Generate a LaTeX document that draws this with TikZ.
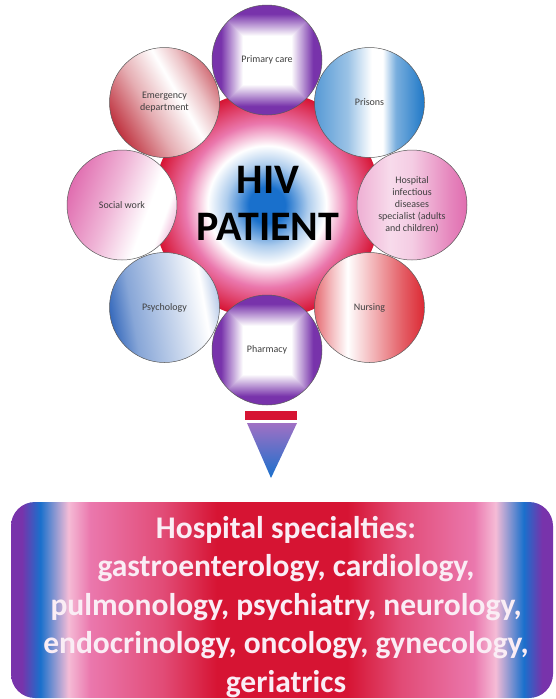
\documentclass[tikz,border=0pt]{standalone}
\usepackage{fontspec}
\newfontfamily\calib{Carlito}
\definecolor{hivred}{rgb}{0.84,0.08,0.2}
\definecolor{hivpink}{rgb}{0.92,0.47,0.68}
\definecolor{hivblue}{rgb}{0.1,0.44,0.8}
\definecolor{hivpurple}{rgb}{0.47,0.2,0.67}
\definecolor{emred}{rgb}{0.75,0.2,0.25}
\definecolor{prblue}{rgb}{0.12,0.47,0.78}
\definecolor{swpink}{rgb}{0.88,0.43,0.69}
\definecolor{psblue}{rgb}{0.22,0.42,0.74}
\definecolor{nured}{rgb}{0.86,0.16,0.2}
\definecolor{lbl}{rgb}{0.25,0.25,0.25}
\definecolor{boxtxt}{rgb}{0.98,0.93,0.96}
\pgfdeclarefunctionalshading{sqpurple}{\pgfpoint{-50bp}{-50bp}}{\pgfpoint{50bp}{50bp}}{}{
	abs exch abs 2 copy sub abs add add 2 div 11 sub 10 div dup abs exch 1 sub abs sub 1 add 2 div
	dup 0.53 mul 1 exch sub exch dup 0.8 mul 1 exch sub exch 0.33 mul 1 exch sub
}
\pgfdeclarehorizontalshading{emshade}{100bp}{color(0bp)=(emred); color(25bp)=(emred); color(42bp)=(emred!40); color(57bp)=(white); color(66bp)=(emred!30); color(75bp)=(emred!70); color(100bp)=(emred!70)}
\pgfdeclarehorizontalshading{prshade}{100bp}{color(0bp)=(prblue!75); color(25bp)=(prblue!75); color(40bp)=(prblue!45); color(51bp)=(white); color(56bp)=(white); color(62bp)=(prblue!60); color(75bp)=(prblue); color(100bp)=(prblue)}
\pgfdeclarehorizontalshading{swshade}{100bp}{color(0bp)=(swpink); color(25bp)=(swpink); color(45bp)=(swpink!50); color(62bp)=(white); color(70bp)=(white); color(75bp)=(swpink!40); color(100bp)=(swpink!40)}
\pgfdeclarehorizontalshading{hoshade}{100bp}{color(0bp)=(swpink!55); color(25bp)=(swpink!55); color(40bp)=(swpink!25); color(50bp)=(swpink!35); color(68bp)=(swpink!85); color(75bp)=(swpink); color(100bp)=(swpink)}
\pgfdeclarehorizontalshading{psshade}{100bp}{color(0bp)=(psblue); color(25bp)=(psblue); color(35bp)=(psblue!60); color(55bp)=(psblue!25); color(68bp)=(white); color(75bp)=(psblue!35); color(100bp)=(psblue!35)}
\pgfdeclarehorizontalshading{nushade}{100bp}{color(0bp)=(nured!70); color(25bp)=(nured!70); color(33bp)=(nured!30); color(40bp)=(white); color(50bp)=(nured!30); color(65bp)=(nured!75); color(75bp)=(nured); color(100bp)=(nured)}
\pgfdeclareradialshading{hivcore}{\pgfpoint{0bp}{0bp}}{color(0bp)=(hivblue); color(4bp)=(hivblue); color(9bp)=(hivblue!35); color(13bp)=(white); color(18bp)=(hivpink); color(25bp)=(hivred); color(50bp)=(hivred)}
\pgfdeclarehorizontalshading{specshade}{100bp}{color(0bp)=(hivpurple); color(25bp)=(hivpurple); color(26bp)=(hivpurple); color(27.7bp)=(hivblue); color(30.3bp)=(hivpink!50); color(32.3bp)=(hivpink); color(39bp)=(hivpink!55!hivred); color(44bp)=(hivred); color(56bp)=(hivred); color(61bp)=(hivpink!55!hivred); color(67.7bp)=(hivpink); color(69.7bp)=(hivpink!50); color(72.3bp)=(hivblue); color(74bp)=(hivpurple); color(75bp)=(hivpurple); color(100bp)=(hivpurple)}

\begin{document}
\begin{tikzpicture}[x=1pt, y=-1pt,
	ringcirc/.style={circle, draw=gray!70!black, line width=0.5pt, minimum size=110pt, inner sep=0pt, align=center, font=\calib\fontsize{10}{12}\selectfont, text=lbl},
	specbox/.style={rounded corners=24pt, minimum width=542pt, minimum height=196pt, inner sep=0pt, shade, shading=specshade},
	spectext/.style={align=center, inner sep=0pt, text=boxtxt, font=\calib\bfseries\fontsize{31.5}{38.5}\selectfont}]
		\useasboundingbox (0,0) rectangle (555,699);
		\fill[white] (0,0) rectangle (555,699);
		\shade[shading=hivcore] (267,205) circle (114);
		\foreach \cx/\cy/\nm/\sh/\ang/\txt in {164.5/102.5/emerg/emshade/30/{Emergency\\department}, 369.5/102.5/prison/prshade/0/Prisons, 164.5/307.5/psych/psshade/10/Psychology, 369.5/307.5/nurse/nushade/0/Nursing, 122/205/social/swshade/-20/Social work, 412/205/hospital/hoshade/0/{Hospital\\infectious\\diseases\\specialist (adults\\and children)}}
			\node[ringcirc, shade, shading=\sh, shading angle=\ang] (\nm) at (\cx,\cy) {\txt};
		\node[ringcirc, shade, shading=sqpurple] (primary) at (267,60) {Primary care};
		\node[ringcirc, shade, shading=sqpurple] (pharmacy) at (267,350) {Pharmacy};
		\node[align=center, inner sep=0pt, font=\calib\bfseries\fontsize{42}{47}\selectfont] (hiv) at (268,203.5) {HIV\\PATIENT};
		\fill[hivred] (245,411) rectangle (297,420);
		\shade[top color=hivpurple!70, middle color=hivpurple!60!hivblue, bottom color=hivblue] (247,423) -- (297,423) -- (271,478) -- cycle;
		\node[specbox] (spec) at (282,600) {};
		\node[spectext] (spectxt) at (286,607) {Hospital specialties:\\gastroenterology, cardiology,\\pulmonology, psychiatry, neurology,\\endocrinology, oncology, gynecology,\\geriatrics};
\end{tikzpicture}
\end{document}
